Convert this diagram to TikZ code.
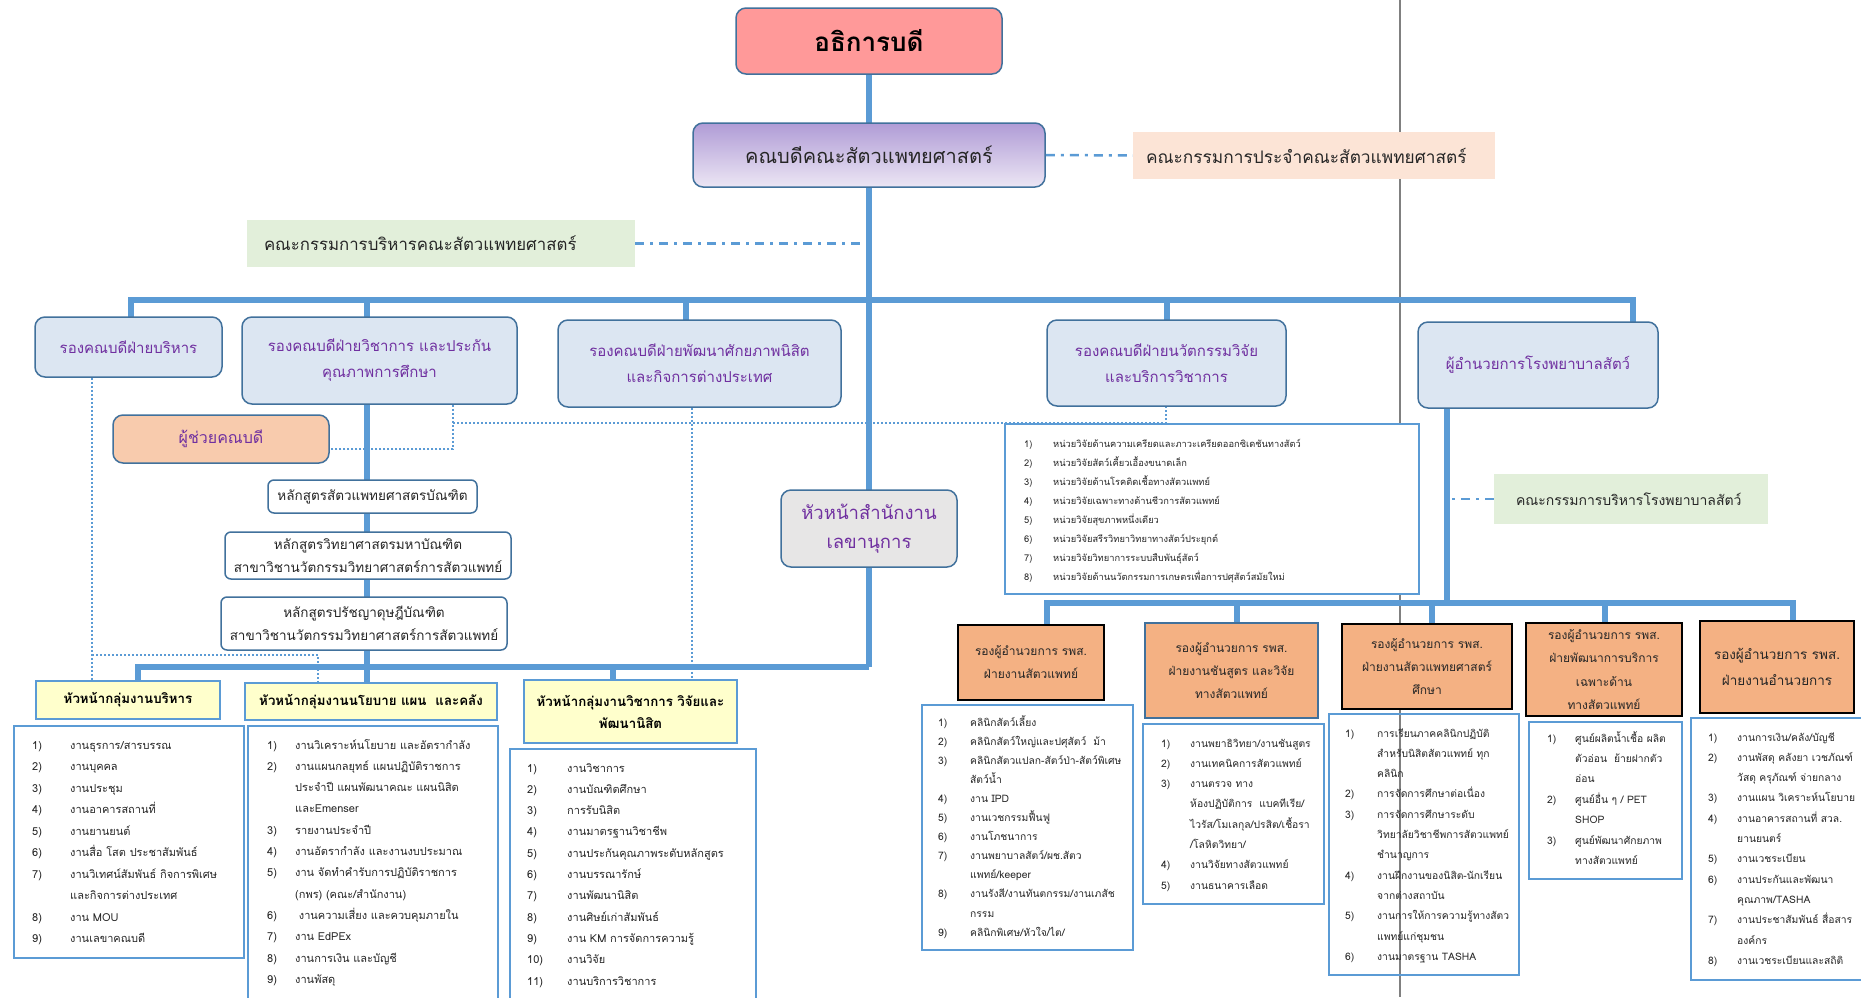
\documentclass[tikz,border=0pt]{standalone}
\usepackage{fontspec}
\setmainfont[Script=Thai]{Loma}
\usetikzlibrary{calc}
\definecolor{linkc}{HTML}{5B9BD5}
\definecolor{bordc}{HTML}{41719C}
\definecolor{lblue}{HTML}{DCE6F2}
\definecolor{tpurple}{HTML}{7030A0}
\definecolor{pinkc}{HTML}{FF9999}
\definecolor{deantop}{HTML}{B09CD6}
\definecolor{deanbot}{HTML}{ECE6F4}
\definecolor{peach}{HTML}{FCE4D6}
\definecolor{greenc}{HTML}{E2EFDA}
\definecolor{yellowc}{HTML}{FFFFCC}
\definecolor{orangec}{HTML}{F4B183}
\definecolor{salmon}{HTML}{F8CBAD}
\definecolor{grayc}{HTML}{E7E6E6}
\definecolor{grayl}{HTML}{808080}
\definecolor{textc}{HTML}{262626}
\newcommand\mylist[2]{\begin{tabular}[t]{@{}p{#1}@{}l@{}}#2\end{tabular}}
\tikzset{
 trunk/.style={draw=linkc, line width=6.5pt},
 dotl/.style={draw=linkc, line width=2pt, dash pattern=on 2pt off 2pt},
 dashdot/.style={draw=linkc, line width=2.5pt, dash pattern=on 9pt off 6pt on 3pt off 6pt},
 rbox/.style={draw=bordc, line width=1.5pt, rounded corners=10pt, align=center, inner sep=0pt},
 vbox/.style={rbox, fill=lblue, text=tpurple, font=\fontsize{15}{26}\selectfont},
 cbox/.style={rbox, fill=white, text=textc, rounded corners=6pt, font=\fontsize{13.5}{23}\selectfont},
 flatbox/.style={inner ysep=0pt, align=left, text=textc},
 ybox/.style={draw=linkc, line width=1.5pt, fill=yellowc, align=center, inner sep=0pt, text=black, font=\bfseries\fontsize{13.3}{22}\selectfont},
 obox/.style={draw=black, line width=1.5pt, fill=orangec, align=center, inner sep=0pt, text=textc, font=\fontsize{12}{23}\selectfont},
 lbox/.style={draw=linkc, line width=1.5pt, fill=white, anchor=north west, inner sep=0pt},
 ltext/.style={anchor=base west, inner sep=0pt, text=textc},
}
\begin{document}
\begin{tikzpicture}[x=1pt,y=-1pt]
\useasboundingbox (0,0) rectangle (1861,997);
\clip (0,0) rectangle (1861,997);
\fill[white] (0,0) rectangle (1861,997);

% gray separator
\coordinate (g0) at (1400,0);
\coordinate (g1) at (1400,997);
\draw[grayl, line width=2.5pt] (g0) -- (g1);

% junction coordinates
\coordinate (b1) at (131,300);
\coordinate (b2) at (367,300);
\coordinate (b3) at (686,300);
\coordinate (b4) at (1167,300);
\coordinate (b5) at (1633,300);
\coordinate (c1) at (138,667);
\coordinate (c3) at (613,667);
\coordinate (c4) at (869,667);
\coordinate (h0) at (1447,603);
\coordinate (d1) at (1047,603);
\coordinate (d2) at (1237,603);
\coordinate (d3) at (1432,603);
\coordinate (d4) at (1605,603);
\coordinate (d5) at (1793,603);
\coordinate (p1) at (92,655);
\coordinate (p2) at (318,655);
\coordinate (q1) at (692,0);
\coordinate (r1) at (453,449);
\coordinate (r2) at (453,423);
\coordinate (r3) at (1166,423);

\path
 node[rbox, fill=pinkc, minimum width=266pt, minimum height=66pt, font=\bfseries\fontsize{26}{30}\selectfont, text=black] (T) at (869,41) {อธิการบดี};

% connectors (thick)
\draw[trunk] (T.south) -- (869,130);
\draw[trunk] (869,180) -- (c4);
\draw[trunk] (1633,330) -- (b5) -- (b1) -- (131,330);
\draw[trunk] (b2) -- (367,330);
\draw[trunk] (b3) -- (686,330);
\draw[trunk] (b4) -- (1167,330);
\draw[trunk] (367,380) -- (367,690);
\draw[trunk] (138,690) -- (c1) -- (c4);
\draw[trunk] (c3) -- (613,690);
\draw[trunk] (1447,390) -- (h0);
\draw[trunk] (1047,640) -- (d1) -- (d5) -- (1793,640);
\draw[trunk] (d2) -- (1237,640);
\draw[trunk] (d3) -- (1432,640);
\draw[trunk] (d4) -- (1605,640);

% boxes
\node[rbox, top color=deantop, bottom color=deanbot, minimum width=352pt, minimum height=64pt, font=\fontsize{20}{24}\selectfont, text=textc] (D) at (869,155) {คณบดีคณะสัตวแพทยศาสตร์};
\node[flatbox, fill=peach, inner xsep=13pt, text width=336pt, minimum height=47pt, font=\fontsize{17.3}{22}\selectfont] (C) at (1314,155.5) {คณะกรรมการประจำคณะสัตวแพทยศาสตร์};
\node[flatbox, fill=greenc, inner xsep=17pt, text width=354pt, minimum height=47pt, font=\fontsize{16.8}{22}\selectfont] (E) at (441,243.5) {คณะกรรมการบริหารคณะสัตวแพทยศาสตร์};

\node[vbox, minimum width=187pt, minimum height=60pt] (V1) at (128.5,347) {รองคณบดีฝ่ายบริหาร};
\node[vbox, minimum width=275pt, minimum height=87pt] (V2) at (379.5,360.5) {รองคณบดีฝ่ายวิชาการ และประกัน\\คุณภาพการศึกษา};
\node[vbox, minimum width=283pt, minimum height=87pt] (V3) at (699.5,363.5) {รองคณบดีฝ่ายพัฒนาศักยภาพนิสิต\\และกิจการต่างประเทศ};
\node[vbox, minimum width=239pt, minimum height=86pt] (V4) at (1166.5,363) {รองคณบดีฝ่ายนวัตกรรมวิจัย\\และบริการวิชาการ};
\node[vbox, minimum width=240pt, minimum height=86pt] (V5) at (1538,365) {ผู้อำนวยการโรงพยาบาลสัตว์};

\node[rbox, fill=salmon, text=tpurple, minimum width=216pt, minimum height=48pt, font=\fontsize{16}{20}\selectfont] (A) at (221,439) {ผู้ช่วยคณบดี};
\node[cbox, minimum width=209pt, minimum height=33pt] (B1) at (372.5,496.5) {หลักสูตรสัตวแพทยศาสตรบัณฑิต};
\node[cbox, minimum width=286pt, minimum height=47pt] (B2) at (368,555.5) {หลักสูตรวิทยาศาสตรมหาบัณฑิต\\สาขาวิชานวัตกรรมวิทยาศาสตร์การสัตวแพทย์};
\node[cbox, minimum width=286pt, minimum height=53pt] (B3) at (364,623.5) {หลักสูตรปรัชญาดุษฎีบัณฑิต\\สาขาวิชานวัตกรรมวิทยาศาสตร์การสัตวแพทย์};
\node[rbox, fill=grayc, text=tpurple, minimum width=176pt, minimum height=77pt, font=\fontsize{18.5}{29}\selectfont] (S) at (869,528.5) {หัวหน้าสำนักงาน\\เลขานุการ};

\node[flatbox, fill=greenc, inner xsep=22pt, text width=230pt, minimum height=50pt, font=\fontsize{14}{18}\selectfont] (HC) at (1631,499) {คณะกรรมการบริหารโรงพยาบาลสัตว์};

\node[ybox, minimum width=184pt, minimum height=38pt] (Y1) at (128,700) {หัวหน้ากลุ่มงานบริหาร};
\node[ybox, minimum width=252pt, minimum height=37pt] (Y2) at (371,701.5) {หัวหน้ากลุ่มงานนโยบาย แผน\ \ และคลัง};
\node[ybox, minimum width=213pt, minimum height=63pt] (Y3) at (630.5,711.5) {หัวหน้ากลุ่มงานวิชาการ วิจัยและ\\พัฒนานิสิต};

\node[obox, minimum width=146pt, minimum height=75pt] (O1) at (1031,662.5) {รองผู้อำนวยการ รพส.\\ฝ่ายงานสัตวแพทย์};
\node[obox, draw=bordc, minimum width=173pt, minimum height=95pt] (O2) at (1231.5,670.5) {รองผู้อำนวยการ รพส.\\ฝ่ายงานชันสูตร และวิจัย\\ทางสัตวแพทย์};
\node[obox, minimum width=170pt, minimum height=85pt] (O3) at (1427,666.5) {รองผู้อำนวยการ รพส.\\ฝ่ายงานสัตวแพทยศาสตร์\\ศึกษา};
\node[obox, minimum width=156pt, minimum height=93pt, font=\fontsize{12}{23.5}\selectfont] (O4) at (1604,669.5) {รองผู้อำนวยการ รพส.\\ฝ่ายพัฒนาการบริการ\\เฉพาะด้าน\\ทางสัตวแพทย์};
\node[obox, minimum width=154pt, minimum height=92pt, font=\fontsize{13.5}{26}\selectfont] (O5) at (1777,667) {รองผู้อำนวยการ รพส.\\ฝ่ายงานอำนวยการ};

% trunk segments between named boxes
\draw[trunk] (T.south) -- (D.north);

% dotted and dash-dot connectors
\draw[dotl] (V1.south -| p1) -- (Y1.north -| p1);
\draw[dotl] (p1) -- (p2) -- (Y2.north -| p2);
\draw[dotl] (V3.south -| q1) -- (Y3.north -| q1);
\draw[dotl] (V2.south -| r1) -- (r1) -- (A.east |- r1);
\draw[dotl] (r2) -- (r3) -- (V4.south -| r3);
\draw[dashdot] (D.east) -- (C.west);
\draw[dashdot] (E.east) -- (E.east -| D.south);
\draw[dashdot] (HC.west) -- (HC.west -| h0);

% ---------- lists ----------
\node[lbox, minimum width=230pt, minimum height=232pt] (L1) at (13,725) {};
\node[ltext, font=\fontsize{11}{21.5}\selectfont] (L1t) at (32,749) {\mylist{38pt}{%
1)&งานธุรการ/สารบรรณ\\
2)&งานบุคคล\\
3)&งานประชุม\\
4)&งานอาคารสถานที่\\
5)&งานยานยนต์\\
6)&งานสื่อ โสต ประชาสัมพันธ์\\
7)&งานวิเทศน์สัมพันธ์ กิจการพิเศษ\\
&และกิจการต่างประเทศ\\
8)&งาน MOU\\
9)&งานเลขาคณบดี}};

\node[lbox, minimum width=250pt, minimum height=300pt] (L2) at (247,725) {};
\node[ltext, font=\fontsize{11}{21.3}\selectfont] (L2t) at (267,749) {\mylist{28pt}{%
1)&งานวิเคราะห์นโยบาย และอัตรากำลัง\\
2)&งานแผนกลยุทธ์ แผนปฏิบัติราชการ\\
&ประจำปี แผนพัฒนาคณะ แผนนิสิต\\
&และEmenser\\
3)&รายงานประจำปี\\
4)&งานอัตรากำลัง และงานงบประมาณ\\
5)&งาน จัดทำคำรับการปฏิบัติราชการ\\
&(กพร) (คณะ/สำนักงาน)\\
6)&\ งานความเสี่ยง และควบคุมภายใน\\
7)&งาน EdPEx\\
8)&งานการเงิน และบัญชี\\
9)&งานพัสดุ}};

\node[lbox, minimum width=246pt, minimum height=280pt] (L3) at (509,748) {};
\node[ltext, font=\fontsize{11}{21.3}\selectfont] (L3t) at (527,772) {\mylist{40pt}{%
1)&งานวิชาการ\\
2)&งานบัณฑิตศึกษา\\
3)&การรับนิสิต\\
4)&งานมาตรฐานวิชาชีพ\\
5)&งานประกันคุณภาพระดับหลักสูตร\\
6)&งานบรรณารักษ์\\
7)&งานพัฒนานิสิต\\
8)&งานศิษย์เก่าสัมพันธ์\\
9)&งาน KM การจัดการความรู้\\
10)&งานวิจัย\\
11)&งานบริการวิชาการ}};

\node[lbox, minimum width=414pt, minimum height=170pt] (R) at (1004,423) {};
\node[ltext, font=\fontsize{9.3}{19}\selectfont] (Rt) at (1024,447) {\mylist{29pt}{%
1)&หน่วยวิจัยด้านความเครียดและภาวะเครียดออกซิเดชันทางสัตว์\\
2)&หน่วยวิจัยสัตว์เคี้ยวเอื้องขนาดเล็ก\\
3)&หน่วยวิจัยด้านโรคติดเชื้อทางสัตวแพทย์\\
4)&หน่วยวิจัยเฉพาะทางด้านชีวการสัตวแพทย์\\
5)&หน่วยวิจัยสุขภาพหนึ่งเดียว\\
6)&หน่วยวิจัยสรีรวิทยาวิทยาทางสัตว์ประยุกต์\\
7)&หน่วยวิจัยวิทยาการระบบสืบพันธุ์สัตว์\\
8)&หน่วยวิจัยด้านนวัตกรรมการเกษตรเพื่อการปศุสัตว์สมัยใหม่}};

\node[lbox, minimum width=211pt, minimum height=245pt] (LO1) at (921,704) {};
\node[ltext, font=\fontsize{10.3}{19.1}\selectfont] (LO1t) at (938,726) {\mylist{32pt}{%
1)&คลินิกสัตว์เลี้ยง\\
2)&คลินิกสัตว์ใหญ่และปศุสัตว์\ \ ม้า\\
3)&คลินิกสัตวแปลก-สัตว์ป่า-สัตว์พิเศษ\\
&สัตว์น้ำ\\
4)&งาน IPD\\
5)&งานเวชกรรมฟื้นฟู\\
6)&งานโภชนาการ\\
7)&งานพยาบาลสัตว์/ผช.สัตว\\
&แพทย์/keeper\\
8)&งานรังสี/งานทันตกรรม/งานเภสัช\\
&กรรม\\
9)&คลินิกพิเศษ/หัวใจ/ไต/}};

\node[lbox, minimum width=181pt, minimum height=180pt] (LO2) at (1142,723) {};
\node[ltext, font=\fontsize{10.3}{20.3}\selectfont] (LO2t) at (1161,747) {\mylist{29pt}{%
1)&งานพยาธิวิทยา/งานชันสูตร\\
2)&งานเทคนิคการสัตวแพทย์\\
3)&งานตรวจ ทาง\\
&ห้องปฏิบัติการ\ \ แบคทีเรีย/\\
&ไวรัส/โมเลกุล/ปรสิต/เชื้อรา\\
&/โลหิตวิทยา/\\
4)&งานวิจัยทางสัตวแพทย์\\
5)&งานธนาคารเลือด}};

\node[lbox, fill=none, minimum width=190pt, minimum height=261pt] (LO3) at (1328,713) {};
\node[ltext, font=\fontsize{10.3}{20.3}\selectfont] (LO3t) at (1345,737) {\mylist{32pt}{%
1)&การเรียนภาคคลินิกปฏิบัติ\\
&สำหรับนิสิตสัตวแพทย์ ทุก\\
&คลินิก\\
2)&การจัดการศึกษาต่อเนื่อง\\
3)&การจัดการศึกษาระดับ\\
&วิทยาลัยวิชาชีพการสัตวแพทย์\\
&ชำนาญการ\\
4)&งานฝึกงานของนิสิต-นักเรียน\\
&จากต่างสถาบัน\\
5)&งานการให้การความรู้ทางสัตว\\
&แพทย์แก่ชุมชน\\
6)&งานมาตรฐาน TASHA}};

\node[lbox, minimum width=153pt, minimum height=157pt] (LO4) at (1528,721) {};
\node[ltext, font=\fontsize{10.3}{20.4}\selectfont] (LO4t) at (1547,742) {\mylist{28pt}{%
1)&ศูนย์ผลิตน้ำเชื้อ ผลิต\\
&ตัวอ่อน\ \ ย้ายฝากตัว\\
&อ่อน\\
2)&ศูนย์อื่น ๆ / PET\\
&SHOP\\
3)&ศูนย์พัฒนาศักยภาพ\\
&ทางสัตวแพทย์}};

\node[lbox, minimum width=180pt, minimum height=262pt] (LO5) at (1690,717) {};
\node[ltext, font=\fontsize{10.3}{20.3}\selectfont] (LO5t) at (1708,741) {\mylist{29pt}{%
1)&งานการเงิน/คลัง/บัญชี\\
2)&งานพัสดุ คลังยา เวชภัณฑ์\\
&วัสดุ ครุภัณฑ์ จ่ายกลาง\\
3)&งานแผน วิเคราะห์นโยบาย\\
4)&งานอาคารสถานที่ สวล.\\
&ยานยนตร์\\
5)&งานเวชระเบียน\\
6)&งานประกันและพัฒนา\\
&คุณภาพ/TASHA\\
7)&งานประชาสัมพันธ์ สื่อสาร\\
&องค์กร\\
8)&งานเวชระเบียนและสถิติ}};
\end{tikzpicture}
\end{document}
